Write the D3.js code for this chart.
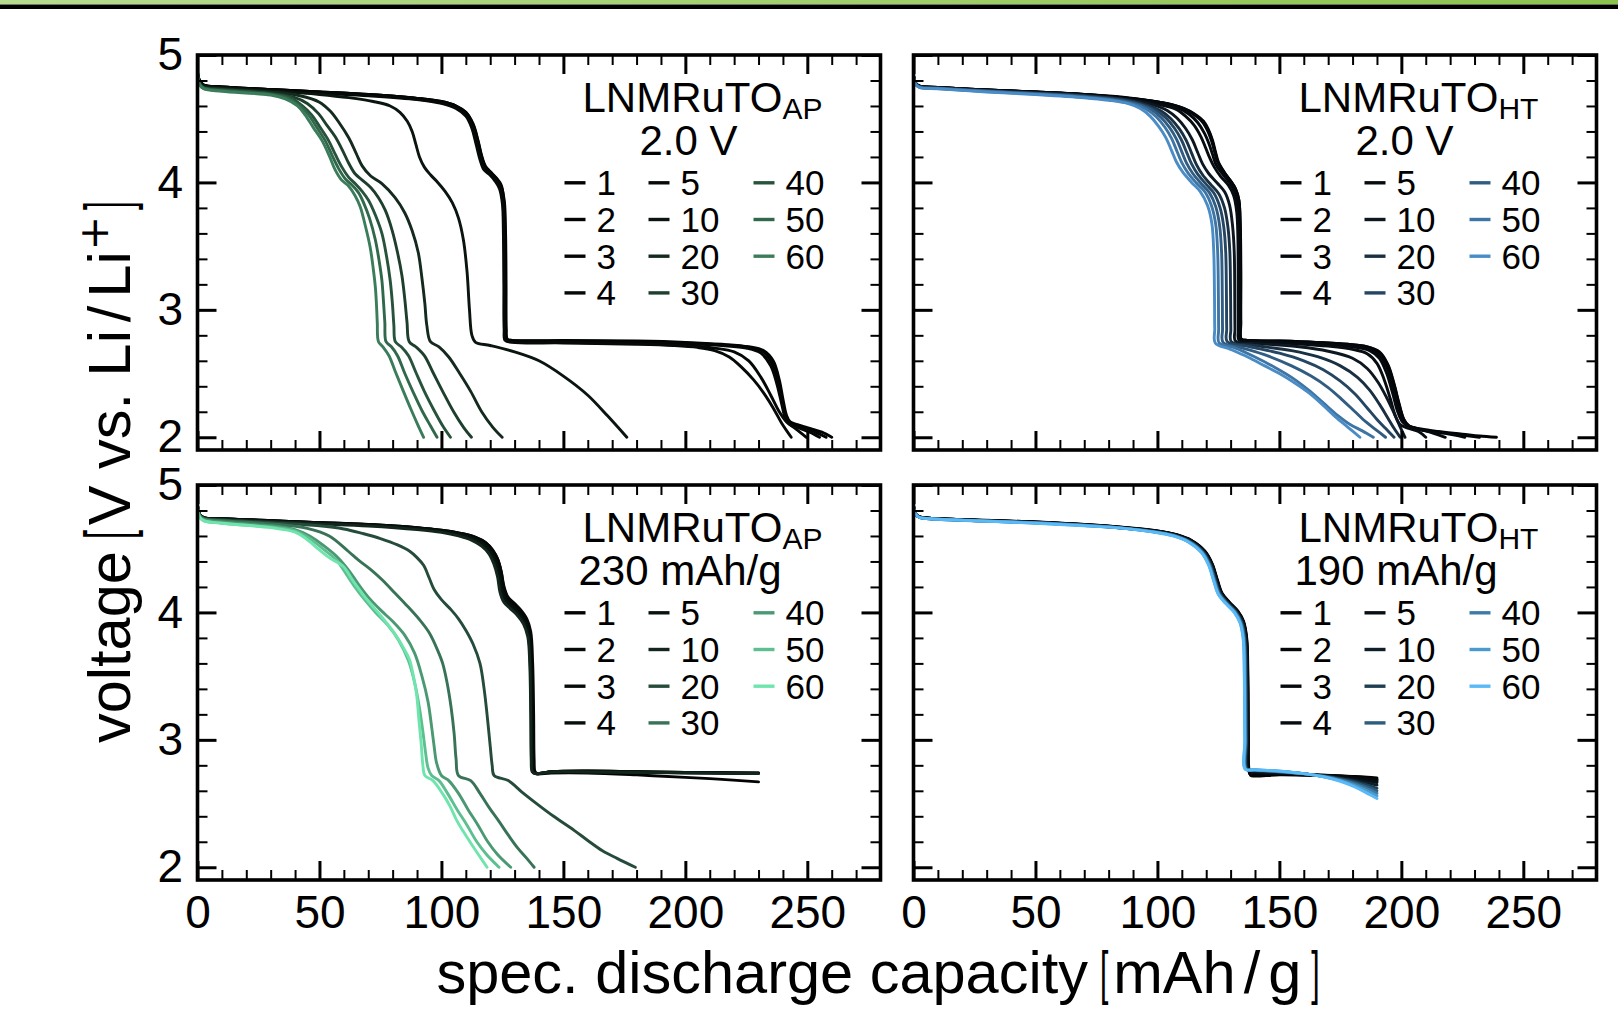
<!DOCTYPE html>
<html><head><meta charset="utf-8">
<script src="https://cdn.jsdelivr.net/npm/d3@7"></script>
<style>body{margin:0;background:#fff}svg{display:block}</style>
</head><body>
<script>
// ---------- data ----------
const cycles = [1, 2, 3, 4, 5, 10, 20, 30, 40, 50, 60];
const xTickValues = [0, 50, 100, 150, 200, 250];
const yTickValues = [2, 3, 4, 5];
const legendColumns = [[1, 2, 3, 4], [5, 10, 20, 30], [40, 50, 60]];
const panelMaterial = ["AP", "HT", "AP", "HT"];
const panelLimit = ["2.0 V", "2.0 V", "230 mAh/g", "190 mAh/g"];

// LNMRuTO_AP, 2.0 V cutoff  [capacity mAh/g, voltage V] per cycle (order = cycles)
const apVolt = [
[[0,4.87],[0.8,4.8],[2.5,4.765],[10,4.75],[30,4.73],[50,4.71],[70,4.69],[90,4.66],[100,4.635],[106,4.6],[110,4.55],[113,4.45],[115,4.32],[116.5,4.2],[118,4.12],[120,4.08],[122.5,4.03],[124.5,3.97],[125.8,3.85],[126.3,3.6],[126.5,3.2],[126.6,2.85],[127,2.77],[129,2.76],[150,2.76],[180,2.755],[200,2.745],[215,2.73],[226,2.71],[232,2.68],[236,2.6],[238.5,2.45],[240,2.3],[241.5,2.17],[243,2.12],[246,2.1],[251,2.07],[256,2.04],[260,2.0]],
[[0,4.86],[0.8,4.8],[2.5,4.765],[10,4.75],[30,4.73],[50,4.71],[70,4.69],[90,4.66],[100,4.635],[106,4.6],[110,4.55],[113,4.46],[115,4.33],[116.5,4.21],[118,4.13],[120,4.085],[122.5,4.035],[124.5,3.98],[125.6,3.85],[126,3.6],[126.2,3.2],[126.3,2.85],[126.7,2.77],[129,2.76],[150,2.755],[180,2.75],[200,2.74],[215,2.725],[226,2.705],[232,2.67],[235.5,2.58],[238,2.43],[239.8,2.28],[241.2,2.16],[243,2.11],[246,2.09],[251,2.06],[257.7,2.0]],
[[0,4.86],[0.8,4.8],[2.5,4.765],[10,4.75],[30,4.73],[50,4.71],[70,4.69],[90,4.66],[100,4.63],[106,4.595],[110,4.54],[112.8,4.45],[114.6,4.32],[116.2,4.2],[117.8,4.12],[120,4.075],[122.5,4.03],[124.3,3.97],[125.4,3.85],[125.8,3.6],[126,3.2],[126.1,2.85],[126.5,2.77],[129,2.755],[150,2.75],[180,2.745],[200,2.735],[215,2.72],[225,2.7],[231,2.66],[235,2.56],[237.5,2.42],[239.5,2.26],[241,2.15],[243,2.1],[247,2.07],[251,2.04],[255,2.0]],
[[0,4.86],[0.8,4.79],[2.5,4.76],[10,4.745],[30,4.725],[50,4.705],[70,4.685],[90,4.655],[100,4.625],[106,4.59],[110,4.53],[112.6,4.44],[114.4,4.31],[116,4.19],[117.6,4.11],[120,4.07],[122.3,4.02],[124,3.96],[125.2,3.84],[125.6,3.6],[125.8,3.2],[125.9,2.85],[126.3,2.77],[129,2.75],[150,2.745],[180,2.735],[200,2.72],[212,2.7],[220,2.67],[226,2.6],[231,2.47],[235,2.33],[238.5,2.2],[241.5,2.12],[245,2.07],[249.6,2.0]],
[[0,4.86],[0.8,4.79],[2.5,4.76],[10,4.745],[30,4.725],[50,4.7],[70,4.68],[90,4.65],[100,4.62],[106,4.58],[110,4.52],[112.4,4.43],[114.2,4.3],[115.8,4.18],[117.4,4.1],[119.8,4.06],[122,4.01],[123.8,3.95],[125,3.83],[125.4,3.6],[125.6,3.2],[125.7,2.85],[126.1,2.76],[129,2.745],[150,2.74],[180,2.73],[195,2.72],[205,2.705],[212,2.68],[218,2.63],[223,2.55],[228,2.45],[232,2.35],[236,2.23],[239.5,2.11],[243.4,2.0]],
[[0,4.86],[0.8,4.79],[2.5,4.76],[10,4.745],[30,4.72],[50,4.69],[62,4.665],[72,4.635],[79,4.6],[83,4.55],[86,4.48],[88,4.4],[89.5,4.3],[91,4.2],[93,4.12],[95.5,4.06],[98.5,4.0],[101.5,3.93],[104.5,3.84],[107,3.72],[109,3.55],[110.5,3.3],[111.5,3.0],[112.5,2.8],[114,2.745],[120,2.72],[130,2.67],[140,2.6],[150,2.48],[160,2.33],[168,2.17],[176,2.0]],
[[0,4.85],[0.8,4.78],[2.5,4.75],[10,4.735],[30,4.71],[42,4.68],[50,4.63],[54.4,4.56],[58,4.47],[62,4.35],[65,4.23],[67.5,4.13],[71,4.05],[75.6,3.99],[81,3.88],[85,3.76],[88,3.62],[90.5,3.45],[92,3.25],[93.2,3.05],[94,2.88],[95.5,2.75],[99,2.71],[103,2.63],[107.5,2.5],[112,2.36],[116.5,2.2],[121,2.08],[124.9,2.0]],
[[0,4.85],[0.8,4.77],[2.5,4.745],[10,4.73],[30,4.7],[40,4.665],[45,4.62],[49.6,4.54],[53,4.45],[56.4,4.36],[59.5,4.25],[62,4.15],[64.5,4.07],[67.4,4.02],[71,3.96],[74.2,3.88],[77,3.78],[79.7,3.63],[82,3.45],[83.8,3.27],[85,3.08],[85.9,2.9],[86.8,2.75],[89.5,2.71],[93,2.64],[96.5,2.51],[100.5,2.36],[105,2.2],[109,2.08],[112.3,2.0]],
[[0,4.85],[0.8,4.77],[2.5,4.74],[10,4.725],[30,4.695],[38,4.665],[43,4.6],[46.8,4.53],[50,4.44],[53.7,4.33],[56.5,4.22],[59.2,4.12],[62,4.04],[64.7,3.99],[67.5,3.93],[70.1,3.86],[73,3.74],[75.6,3.6],[77.5,3.42],[79,3.23],[79.9,3.05],[80.5,2.88],[81.1,2.75],[83.5,2.71],[86.5,2.64],[89.5,2.51],[93,2.36],[97,2.21],[100.5,2.09],[103.7,2.0]],
[[0,4.85],[0.8,4.77],[2.5,4.74],[10,4.72],[30,4.69],[37,4.66],[42,4.6],[45.5,4.53],[49,4.43],[52.3,4.33],[55,4.22],[57.8,4.11],[60.5,4.03],[63.3,3.98],[66,3.92],[68.1,3.84],[70.5,3.72],[72.9,3.55],[74.5,3.38],[75.6,3.23],[76.3,3.05],[76.8,2.9],[77.3,2.75],[79.5,2.71],[82,2.64],[85,2.5],[88.5,2.35],[92,2.21],[95.5,2.09],[98.2,2.0]],
[[0,4.85],[0.8,4.77],[2.5,4.735],[10,4.715],[30,4.685],[36,4.655],[41,4.6],[44.1,4.53],[47.5,4.43],[51,4.33],[54,4.21],[56.4,4.1],[59,4.02],[62,3.97],[64.5,3.9],[66.7,3.81],[68.8,3.66],[70.8,3.49],[72,3.33],[72.9,3.18],[73.4,3.03],[73.7,2.9],[74.2,2.75],[76,2.71],[78.5,2.64],[81,2.52],[84,2.38],[87.5,2.22],[90.5,2.09],[92.7,2.0]]
];

// LNMRuTO_HT, 2.0 V cutoff
const htVolt = [
[[0,4.84],[0.8,4.78],[2.5,4.755],[10,4.745],[30,4.725],[50,4.71],[70,4.69],[85,4.67],[99,4.635],[106,4.61],[111,4.58],[115,4.54],[118.9,4.48],[121,4.41],[122.6,4.33],[123.8,4.24],[125,4.16],[127.4,4.08],[130,4.01],[132,3.95],[133.4,3.86],[134,3.65],[134.2,3.3],[134.2,2.9],[134.4,2.77],[137,2.76],[150,2.755],[165,2.745],[178,2.73],[186,2.71],[191,2.67],[194.5,2.57],[197,2.42],[199,2.27],[201,2.14],[203,2.09],[208,2.065],[215,2.045],[225,2.025],[232,2.01],[239,2.0]],
[[0,4.84],[0.8,4.78],[2.5,4.755],[10,4.745],[30,4.725],[50,4.71],[70,4.69],[98.5,4.636],[105.8,4.61],[110.8,4.58],[114.8,4.54],[118.6,4.48],[120.8,4.41],[122.4,4.33],[123.6,4.24],[124.8,4.16],[127.3,4.08],[130,4.01],[132,3.95],[133.4,3.86],[133.9,3.65],[134.1,3.3],[134.1,2.9],[134.3,2.77],[137,2.76],[150,2.755],[165,2.745],[178,2.73],[186,2.71],[191,2.665],[194.5,2.56],[197,2.41],[199,2.26],[201,2.14],[203,2.09],[208,2.06],[215,2.04],[224,2.02],[232,2.0]],
[[0,4.84],[0.8,4.78],[2.5,4.755],[10,4.745],[30,4.725],[50,4.71],[70,4.69],[98,4.637],[105.5,4.609],[110.5,4.58],[114.5,4.538],[118.3,4.478],[120.6,4.405],[122.2,4.325],[123.5,4.24],[124.7,4.16],[127.2,4.08],[130,4.01],[132,3.94],[133.3,3.84],[133.8,3.62],[133.9,3.3],[134,2.9],[134.2,2.77],[137,2.76],[150,2.75],[165,2.74],[178,2.725],[186,2.7],[190.5,2.65],[194,2.55],[196.5,2.4],[198.5,2.25],[200.5,2.13],[203,2.08],[210,2.05],[218,2.03],[226,2.0]],
[[0,4.84],[0.8,4.78],[2.5,4.755],[10,4.745],[30,4.725],[50,4.709],[70,4.689],[96,4.638],[104,4.607],[109,4.578],[113,4.535],[116.5,4.47],[119.3,4.385],[121.2,4.3],[122.6,4.22],[124,4.14],[126.5,4.07],[129.5,4.0],[131.6,3.93],[133,3.81],[133.5,3.6],[133.6,3.2],[133.7,2.85],[133.9,2.77],[140,2.755],[155,2.745],[170,2.73],[180,2.71],[187,2.68],[191,2.62],[194,2.5],[196.5,2.34],[198.5,2.2],[200.5,2.12],[204,2.08],[210,2.05],[218,2.0]],
[[0,4.84],[0.8,4.78],[2.5,4.754],[10,4.744],[30,4.724],[50,4.708],[70,4.688],[93,4.64],[102,4.605],[107.5,4.575],[111.5,4.52],[115,4.45],[117.8,4.36],[119.8,4.27],[121.5,4.19],[123.3,4.12],[125.8,4.05],[129,3.98],[131.2,3.9],[132.5,3.77],[133,3.55],[133.1,3.1],[133.2,2.85],[133.4,2.765],[140,2.75],[155,2.735],[170,2.715],[180,2.69],[186,2.655],[190,2.58],[193,2.45],[195.5,2.3],[197.5,2.17],[199.5,2.1],[203,2.07],[207,2.045],[210,2.0]],
[[0,4.84],[0.8,4.778],[2.5,4.753],[10,4.743],[30,4.722],[50,4.705],[70,4.684],[91,4.643],[99,4.605],[104,4.565],[108,4.505],[111.5,4.425],[114.3,4.335],[116.5,4.235],[118.5,4.145],[121,4.07],[124.5,3.995],[127.6,3.925],[129.6,3.82],[130.8,3.66],[131.5,3.45],[131.7,3.1],[131.8,2.85],[132,2.755],[142,2.735],[158,2.71],[170,2.675],[180,2.62],[186,2.54],[190.5,2.43],[194,2.31],[197,2.19],[199.3,2.09],[201.5,2.0]],
[[0,4.84],[0.8,4.776],[2.5,4.752],[10,4.742],[30,4.72],[50,4.702],[70,4.68],[88,4.645],[96,4.605],[101.5,4.56],[105.5,4.5],[109,4.42],[111.8,4.33],[114,4.23],[116,4.14],[118.5,4.06],[122,3.98],[125.2,3.91],[127.5,3.8],[128.9,3.65],[129.7,3.45],[130,3.1],[130.1,2.85],[130.3,2.75],[140,2.72],[155,2.68],[166,2.63],[175,2.56],[182,2.47],[187,2.37],[191,2.26],[194.5,2.15],[197,2.07],[199.5,2.0]],
[[0,4.835],[0.8,4.774],[2.5,4.75],[10,4.74],[30,4.717],[50,4.699],[70,4.676],[86,4.645],[94,4.607],[99.5,4.565],[103.5,4.505],[107,4.425],[109.8,4.335],[112,4.235],[114,4.145],[116.5,4.065],[120,3.985],[123.2,3.915],[125.7,3.8],[127.2,3.65],[128,3.45],[128.3,3.1],[128.4,2.85],[128.6,2.75],[138,2.71],[150,2.66],[160,2.6],[168,2.53],[175,2.44],[181,2.34],[186,2.23],[190,2.14],[193.5,2.07],[197,2.0]],
[[0,4.835],[0.8,4.772],[2.5,4.748],[10,4.738],[30,4.715],[50,4.696],[70,4.672],[84,4.645],[92,4.612],[97.5,4.57],[101.5,4.51],[105,4.43],[107.8,4.34],[110,4.24],[112,4.15],[114.5,4.07],[118,3.99],[121.3,3.92],[123.9,3.81],[125.5,3.66],[126.3,3.45],[126.6,3.1],[126.7,2.85],[126.9,2.745],[135,2.7],[145,2.64],[155,2.56],[163,2.48],[170,2.39],[176,2.29],[181,2.2],[185.5,2.12],[189.5,2.06],[193.5,2.0]],
[[0,4.83],[0.8,4.77],[2.5,4.745],[10,4.737],[30,4.713],[50,4.693],[70,4.668],[82,4.645],[90,4.615],[95.5,4.575],[99.5,4.515],[103,4.435],[105.8,4.345],[108,4.245],[110,4.155],[112.5,4.075],[116,3.995],[119.5,3.925],[122.2,3.815],[123.9,3.67],[124.7,3.45],[125,3.1],[125.1,2.85],[125.3,2.74],[132,2.7],[140,2.63],[148,2.55],[155,2.47],[162,2.37],[168,2.27],[174,2.17],[179,2.1],[184,2.05],[188.5,2.0]],
[[0,4.83],[0.8,4.77],[2.5,4.745],[10,4.735],[30,4.71],[50,4.69],[70,4.665],[80,4.645],[87.7,4.62],[93,4.58],[97,4.52],[100.5,4.44],[103.5,4.35],[105.8,4.25],[107.8,4.16],[110.4,4.08],[114,4.0],[117.5,3.93],[120.5,3.82],[122.3,3.68],[123.1,3.45],[123.4,3.1],[123.5,2.85],[123.7,2.74],[130,2.69],[137,2.63],[144,2.56],[150,2.5],[156,2.43],[162,2.35],[168,2.25],[173,2.16],[178,2.08],[183,2.0]]
];

// LNMRuTO_AP, 230 mAh/g capacity limit
const apCap = [
[[0,4.84],[0.8,4.77],[2.5,4.745],[10,4.735],[30,4.72],[50,4.705],[70,4.69],[90,4.665],[100,4.645],[108,4.62],[114,4.59],[118,4.55],[121,4.49],[123,4.42],[124.5,4.32],[125.5,4.2],[127,4.12],[129.5,4.07],[132,4.02],[134.5,3.95],[136.2,3.85],[137,3.6],[137.4,3.2],[137.6,2.85],[138,2.75],[139,2.735],[145,2.74],[160,2.74],[180,2.725],[200,2.705],[215,2.69],[230,2.67]],
[[0,4.84],[0.8,4.77],[2.5,4.745],[10,4.735],[30,4.72],[50,4.705],[70,4.69],[90,4.665],[100,4.645],[108,4.62],[114,4.59],[118,4.55],[121,4.49],[123,4.42],[124.5,4.32],[125.7,4.2],[127.3,4.12],[130,4.07],[132.5,4.02],[135,3.95],[136.6,3.85],[137.4,3.6],[137.8,3.2],[138,2.85],[138.4,2.75],[139.5,2.735],[145,2.75],[160,2.755],[180,2.75],[200,2.745],[215,2.742],[230,2.738]],
[[0,4.84],[0.8,4.77],[2.5,4.745],[10,4.735],[30,4.72],[50,4.705],[70,4.688],[90,4.662],[100,4.642],[108,4.617],[113.5,4.585],[117.5,4.545],[120.5,4.485],[122.5,4.41],[124,4.31],[125,4.19],[126.6,4.11],[129,4.06],[131.6,4.01],[134.2,3.94],[136,3.84],[136.8,3.6],[137.2,3.2],[137.4,2.85],[137.8,2.75],[139,2.735],[145,2.75],[160,2.755],[180,2.75],[200,2.745],[215,2.742],[230,2.74]],
[[0,4.84],[0.8,4.77],[2.5,4.745],[10,4.735],[30,4.718],[50,4.703],[70,4.686],[90,4.66],[100,4.64],[108,4.614],[113.5,4.58],[117.3,4.54],[120.3,4.48],[122.3,4.4],[123.8,4.3],[124.8,4.18],[126.4,4.1],[128.8,4.05],[131.4,4.0],[134,3.93],[135.8,3.83],[136.6,3.6],[137,3.2],[137.2,2.85],[137.6,2.75],[138.8,2.735],[145,2.75],[160,2.752],[180,2.748],[200,2.744],[215,2.741],[230,2.739]],
[[0,4.84],[0.8,4.77],[2.5,4.744],[10,4.733],[30,4.716],[50,4.7],[70,4.683],[90,4.657],[100,4.637],[108,4.61],[113.3,4.575],[117,4.535],[120,4.475],[122,4.395],[123.5,4.29],[124.5,4.17],[126,4.09],[128.5,4.04],[131.2,3.99],[133.8,3.92],[135.6,3.82],[136.4,3.6],[136.8,3.2],[137,2.85],[137.4,2.75],[138.6,2.735],[145,2.75],[160,2.75],[180,2.746],[200,2.742],[215,2.74],[230,2.737]],
[[0,4.84],[0.8,4.765],[2.5,4.74],[10,4.73],[30,4.712],[50,4.695],[70,4.678],[90,4.65],[100,4.628],[107,4.6],[112.5,4.565],[116.5,4.52],[119.5,4.46],[121.5,4.38],[123,4.28],[124,4.16],[125.6,4.08],[128.2,4.03],[131,3.98],[133.6,3.91],[135.4,3.81],[136.2,3.6],[136.6,3.2],[136.8,2.85],[137.2,2.75],[138.4,2.735],[145,2.748],[160,2.748],[180,2.744],[200,2.74],[215,2.737],[230,2.735]],
[[0,4.84],[0.8,4.77],[2.5,4.74],[10,4.725],[30,4.705],[50,4.68],[60,4.655],[67.6,4.62],[75,4.58],[82,4.53],[87,4.48],[90,4.43],[92.7,4.37],[95,4.27],[97,4.18],[100,4.1],[104,4.02],[107,3.95],[110,3.86],[113,3.75],[115.8,3.6],[117.5,3.4],[118.7,3.2],[120,2.95],[120.8,2.8],[121.6,2.72],[127.4,2.68],[133,2.59],[139,2.5],[146,2.4],[154.4,2.29],[160,2.21],[166,2.13],[172,2.07],[179.5,2.0]],
[[0,4.84],[0.8,4.76],[2.5,4.735],[10,4.72],[30,4.695],[45,4.66],[54,4.6],[61.8,4.48],[66,4.41],[71.4,4.33],[76,4.25],[81,4.15],[86,4.05],[90.7,3.95],[95,3.84],[98.5,3.7],[100.5,3.6],[102.3,3.45],[104,3.25],[105.2,3.05],[106,2.85],[107,2.72],[112,2.68],[115.8,2.58],[119.5,2.47],[123.6,2.36],[127.5,2.25],[131.3,2.15],[135,2.07],[138,2.0]],
[[0,4.84],[0.8,4.76],[2.5,4.73],[10,4.71],[30,4.68],[40,4.65],[46,4.6],[52,4.52],[57,4.44],[62,4.33],[66,4.22],[70,4.12],[75,4.02],[80,3.93],[85,3.82],[89,3.68],[92,3.5],[94.5,3.3],[96,3.1],[97,2.95],[98,2.82],[100,2.72],[103,2.68],[107,2.58],[111,2.45],[115,2.33],[119,2.2],[123,2.1],[128.4,2.0]],
[[0,4.83],[0.8,4.75],[2.5,4.72],[10,4.7],[30,4.67],[40,4.64],[46,4.58],[52,4.49],[57,4.41],[61,4.3],[64.5,4.2],[68.5,4.1],[73,4.0],[78,3.9],[82.5,3.78],[86.5,3.62],[89,3.45],[91,3.25],[92.5,3.05],[93.5,2.9],[94.5,2.78],[96,2.72],[99,2.68],[102.5,2.58],[106.5,2.45],[110.5,2.33],[114.5,2.2],[118.5,2.1],[123.6,2.0]],
[[0,4.83],[0.8,4.75],[2.5,4.72],[10,4.7],[30,4.665],[40,4.63],[44.4,4.58],[50,4.49],[54,4.43],[59.8,4.36],[63.7,4.25],[69.5,4.1],[75.3,3.97],[81,3.83],[84.5,3.72],[86.9,3.63],[88.5,3.5],[89.8,3.36],[90.8,3.15],[91.7,2.97],[92.4,2.8],[93.2,2.72],[96.5,2.68],[100.4,2.58],[103.5,2.48],[106.2,2.37],[109,2.28],[112,2.19],[115.5,2.09],[118.7,2.0]]
];

// LNMRuTO_HT, 190 mAh/g capacity limit
const htCap = [
[[0,4.84],[0.8,4.775],[2.5,4.75],[6.6,4.74],[25,4.725],[50,4.71],[70,4.69],[87.7,4.665],[100,4.64],[108,4.61],[114,4.565],[119.5,4.48],[122.5,4.38],[124.5,4.26],[126.5,4.15],[129.5,4.08],[133,4.01],[135.3,3.93],[136.6,3.8],[137.1,3.5],[137.3,3.0],[137.5,2.77],[138.2,2.72],[140,2.715],[150,2.725],[160,2.722],[168,2.72],[175,2.717],[181,2.713],[186,2.707],[190,2.7]],
[[0,4.84],[0.8,4.775],[2.5,4.75],[6.6,4.74],[25,4.725],[50,4.71],[70,4.69],[87.6,4.664],[99.9,4.639],[107.9,4.609],[113.9,4.564],[119.4,4.479],[122.4,4.379],[124.4,4.259],[126.4,4.149],[129.4,4.079],[132.9,4.009],[135.2,3.929],[136.5,3.8],[137,3.5],[137.2,3.0],[137.4,2.77],[138,2.73],[140,2.728],[150,2.73],[160,2.726],[168,2.722],[175,2.716],[181,2.709],[186,2.7],[190,2.69]],
[[0,4.84],[0.8,4.774],[2.5,4.749],[6.6,4.739],[25,4.724],[50,4.709],[70,4.689],[87.5,4.663],[99.8,4.638],[107.8,4.608],[113.8,4.563],[119.3,4.478],[122.3,4.378],[124.3,4.258],[126.3,4.148],[129.3,4.078],[132.8,4.008],[135.1,3.928],[136.4,3.8],[136.9,3.5],[137.1,3.0],[137.3,2.77],[140,2.74],[150,2.735],[160,2.728],[168,2.722],[175,2.714],[181,2.705],[186,2.695],[190,2.685]],
[[0,4.84],[0.8,4.774],[2.5,4.749],[6.6,4.739],[25,4.724],[50,4.708],[70,4.688],[87.5,4.662],[99.8,4.637],[107.8,4.607],[113.8,4.562],[119.3,4.477],[122.3,4.377],[124.3,4.257],[126.3,4.147],[129.3,4.077],[132.8,4.007],[135.1,3.927],[136.4,3.8],[136.9,3.5],[137.1,3.0],[137.3,2.77],[140,2.745],[150,2.738],[160,2.729],[168,2.72],[175,2.71],[181,2.698],[186,2.686],[190,2.675]],
[[0,4.84],[0.8,4.773],[2.5,4.748],[6.6,4.738],[25,4.723],[50,4.707],[70,4.687],[87.4,4.661],[99.7,4.636],[107.7,4.606],[113.7,4.561],[119.2,4.476],[122.2,4.376],[124.2,4.256],[126.2,4.146],[129.2,4.076],[132.7,4.006],[135,3.926],[136.3,3.8],[136.8,3.5],[137,3.0],[137.2,2.77],[140,2.75],[150,2.74],[160,2.73],[168,2.72],[175,2.707],[181,2.692],[186,2.678],[190,2.665]],
[[0,4.835],[0.8,4.772],[2.5,4.747],[6.6,4.737],[25,4.722],[50,4.706],[70,4.686],[87.2,4.66],[99.5,4.635],[107.5,4.605],[113.5,4.56],[119,4.475],[122,4.375],[124,4.255],[126,4.145],[129,4.075],[132.5,4.005],[134.8,3.925],[136.1,3.8],[136.6,3.5],[136.8,3.0],[137,2.77],[140,2.755],[150,2.745],[160,2.732],[168,2.718],[175,2.7],[181,2.682],[186,2.662],[190,2.645]],
[[0,4.835],[0.8,4.771],[2.5,4.746],[6.6,4.736],[25,4.721],[50,4.705],[70,4.685],[87,4.66],[99.2,4.634],[107.2,4.604],[113.2,4.558],[118.7,4.474],[121.7,4.374],[123.7,4.254],[125.7,4.144],[128.7,4.074],[132.2,4.004],[134.5,3.924],[135.8,3.8],[136.3,3.5],[136.5,3.0],[136.7,2.77],[140,2.76],[150,2.748],[160,2.733],[168,2.716],[175,2.695],[181,2.672],[186,2.645],[190,2.62]],
[[0,4.833],[0.8,4.77],[2.5,4.745],[6.6,4.735],[25,4.72],[50,4.704],[70,4.684],[86.8,4.66],[99,4.633],[107,4.603],[113,4.557],[118.5,4.473],[121.5,4.373],[123.5,4.253],[125.5,4.143],[128.5,4.073],[132,4.003],[134.3,3.923],[135.6,3.8],[136.1,3.5],[136.3,3.0],[136.5,2.77],[140,2.762],[150,2.75],[160,2.734],[168,2.714],[175,2.69],[181,2.662],[186,2.63],[190,2.6]],
[[0,4.832],[0.8,4.77],[2.5,4.745],[6.6,4.735],[25,4.72],[50,4.703],[70,4.683],[86.6,4.66],[98.8,4.632],[106.8,4.602],[112.8,4.556],[118.3,4.472],[121.3,4.372],[123.3,4.252],[125.3,4.142],[128.3,4.072],[131.8,4.002],[134.1,3.922],[135.4,3.8],[135.9,3.5],[136.1,3.0],[136.3,2.77],[140,2.764],[150,2.752],[160,2.735],[168,2.712],[175,2.685],[181,2.652],[186,2.615],[190,2.58]],
[[0,4.831],[0.8,4.77],[2.5,4.745],[6.6,4.735],[25,4.72],[50,4.702],[70,4.682],[86.4,4.66],[98.6,4.631],[106.6,4.601],[112.6,4.555],[118.1,4.471],[121.1,4.371],[123.1,4.251],[125.1,4.141],[128.1,4.071],[131.6,4.001],[133.9,3.921],[135.2,3.8],[135.7,3.5],[135.9,3.0],[136.1,2.77],[140,2.765],[150,2.754],[160,2.735],[168,2.711],[175,2.68],[181,2.641],[186,2.6],[190,2.56]],
[[0,4.83],[0.8,4.77],[2.5,4.745],[6.6,4.735],[25,4.72],[50,4.7],[70,4.68],[86.2,4.66],[98.5,4.63],[106.5,4.6],[112.5,4.555],[118,4.47],[121,4.37],[123,4.25],[125,4.14],[128,4.07],[131.5,4.0],[133.8,3.92],[135.1,3.8],[135.6,3.5],[135.8,3.0],[136,2.77],[140,2.765],[150,2.755],[160,2.735],[168,2.71],[175,2.675],[181,2.63],[186,2.58],[190,2.54]]
];

// ---------- layout / style ----------
const W = 1618, H = 1009;
const FONT = "'Liberation Sans', Arial, Helvetica, sans-serif";
const panelData = [apVolt, htVolt, apCap, htCap];
const endColor = ["#3b7d5a", "#4a8cc5", "#6fe5ad", "#5ab9f7"];
const colX = [197.5, 913.5], rowY = [55, 485], PW = 683, PH = 395;

const svg = d3.select("body").append("svg").attr("width", W).attr("height", H)
  .style("font-family", FONT);

// header band
const defs = svg.append("defs");
const grad = defs.append("linearGradient").attr("id", "hdr").attr("x1", 0).attr("x2", 1);
grad.append("stop").attr("offset", 0).attr("stop-color", "#b7db8f");
grad.append("stop").attr("offset", 1).attr("stop-color", "#8cc34e");
svg.append("rect").attr("x", 0).attr("y", 0).attr("width", W).attr("height", 4.5).attr("fill", "url(#hdr)");
svg.append("rect").attr("x", 0).attr("y", 4.5).attr("width", W).attr("height", 4.5).attr("fill", "#000");

const xMinor = d3.range(10, 280, 10).filter(v => v % 50 !== 0);
const yMinor = d3.range(11, 25).map(v => +(v * 0.2).toFixed(1)).filter(v => v % 1 !== 0);

panelData.forEach((curves, i) => {
  const col = i % 2, row = Math.floor(i / 2);
  const x0 = colX[col], y0 = rowY[row];
  const x = d3.scaleLinear().domain([0, 280]).range([x0, x0 + PW]);
  const y = d3.scaleLinear().domain([1.9, 5.0]).range([y0 + PH, y0]);
  const color = c => d3.interpolateRgb("#000000", endColor[i])(c / 60);
  const g = svg.append("g");

  defs.append("clipPath").attr("id", "clip" + i).append("rect")
    .attr("x", x0).attr("y", y0).attr("width", PW).attr("height", PH);

  const line = d3.line().x(d => x(d[0])).y(d => y(d[1])).curve(d3.curveCatmullRom.alpha(0.5));
  g.append("g").attr("clip-path", `url(#clip${i})`).selectAll("path").data(curves).join("path")
    .attr("d", line).attr("fill", "none").attr("stroke", (d, k) => color(cycles[k]))
    .attr("stroke-width", 2.9).attr("stroke-linejoin", "round").attr("stroke-linecap", "round");

  // axes: ticks inward on all four sides
  const none = () => "";
  const axes = [
    [() => d3.axisBottom(x), `translate(0,${y0 + PH})`, xTickValues, xMinor, row === 1 ? d3.format("d") : none, 15],
    [() => d3.axisTop(x), `translate(0,${y0})`, xTickValues, xMinor, none, 0],
    [() => d3.axisLeft(y), `translate(${x0},0)`, yTickValues, yMinor, col === 0 ? d3.format("d") : none, 14.5],
    [() => d3.axisRight(y), `translate(${x0 + PW},0)`, yTickValues, yMinor, none, 0]
  ];
  axes.forEach(([mkAxis, tr, maj, min, fmt, pad]) => {
    const gMaj = g.append("g").attr("transform", tr)
      .call(mkAxis().tickValues(maj).tickSize(-19).tickSizeOuter(0).tickFormat(fmt).tickPadding(pad));
    gMaj.select(".domain").remove();
    gMaj.selectAll("line").attr("stroke", "#000").attr("stroke-width", 3);
    gMaj.selectAll("text").attr("font-size", 46).attr("font-family", FONT).attr("fill", "#000");
    const gMin = g.append("g").attr("transform", tr)
      .call(mkAxis().tickValues(min).tickSize(-10).tickSizeOuter(0).tickFormat(none));
    gMin.select(".domain").remove();
    gMin.selectAll("line").attr("stroke", "#000").attr("stroke-width", 2);
  });

  g.append("rect").attr("x", x0).attr("y", y0).attr("width", PW).attr("height", PH)
    .attr("fill", "none").attr("stroke", "#000").attr("stroke-width", 3.6);

  // legend title
  const t1 = g.append("text").attr("x", x0 + 385).attr("y", y0 + 57).attr("font-size", 42).attr("fill", "#000");
  t1.append("tspan").text("LNMRuTO");
  t1.append("tspan").attr("font-size", 30).attr("dy", 7).text(panelMaterial[i]);
  const t2 = g.append("text").attr("y", y0 + 100).attr("font-size", 42).attr("fill", "#000");
  if (row === 0) t2.attr("x", x0 + 491).attr("text-anchor", "middle").text(panelLimit[i]);
  else t2.attr("x", x0 + 381).text(panelLimit[i]);

  // legend entries
  const hx = [367, 451, 556], lx = [399, 483, 588];
  legendColumns.forEach((list, ci) => {
    list.forEach((c, ri) => {
      const cy = y0 + 127.8 + ri * 36.7;
      g.append("line").attr("x1", x0 + hx[ci]).attr("x2", x0 + hx[ci] + 21)
        .attr("y1", cy).attr("y2", cy).attr("stroke", color(c)).attr("stroke-width", 3.4);
      g.append("text").attr("x", x0 + lx[ci]).attr("y", cy + 12.5).attr("font-size", 35)
        .attr("fill", "#000").text(c);
    });
  });
});

// axis titles built piece by piece (thin tall brackets, spaced slash, superscript)
const BRS = 0.5; // horizontal squeeze for the brackets -> thin strokes
function titleRow(g, parts) {
  let pos = 0;
  const items = [];
  parts.forEach(p => {
    pos += p.gap || 0;
    const el = g.append("text").attr("font-size", p.fs).attr("fill", "#000").text(p.t);
    if (p.family) el.attr("font-family", p.family);
    const w = el.node().getComputedTextLength() * (p.bracket ? BRS : 1);
    items.push({ el, pos, p });
    pos += w;
  });
  const off = -pos / 2;
  items.forEach(({ el, pos: px, p }) => {
    if (p.bracket) el.attr("transform", `translate(${px + off},0) scale(${BRS},1)`);
    else el.attr("x", px + off).attr("y", -(p.raise || 0));
  });
}
titleRow(svg.append("g").attr("transform", "translate(878,993)"), [
  { t: "spec. discharge capacity", fs: 59.5 },
  { t: "[", fs: 60, bracket: true, gap: 12 },
  { t: "mAh", fs: 59.5, gap: 5 },
  { t: "/", fs: 59.5, gap: 8 },
  { t: "g", fs: 59.5, gap: 8 },
  { t: "]", fs: 60, bracket: true, gap: 10 }
]);
titleRow(svg.append("g").attr("transform", "translate(130,472) rotate(-90)"), [
  { t: "voltage", fs: 59.5 },
  { t: "[", fs: 64, bracket: true, gap: 12 },
  { t: "V vs. Li", fs: 59.5, gap: 5 },
  { t: "/", fs: 59.5, gap: 8 },
  { t: "Li", fs: 59.5, gap: 8 },
  { t: "+", fs: 41, raise: 22, gap: 1, family: "'DejaVu Sans', sans-serif" },
  { t: "]", fs: 64, bracket: true, gap: 6 }
]);
</script>
</body></html>
